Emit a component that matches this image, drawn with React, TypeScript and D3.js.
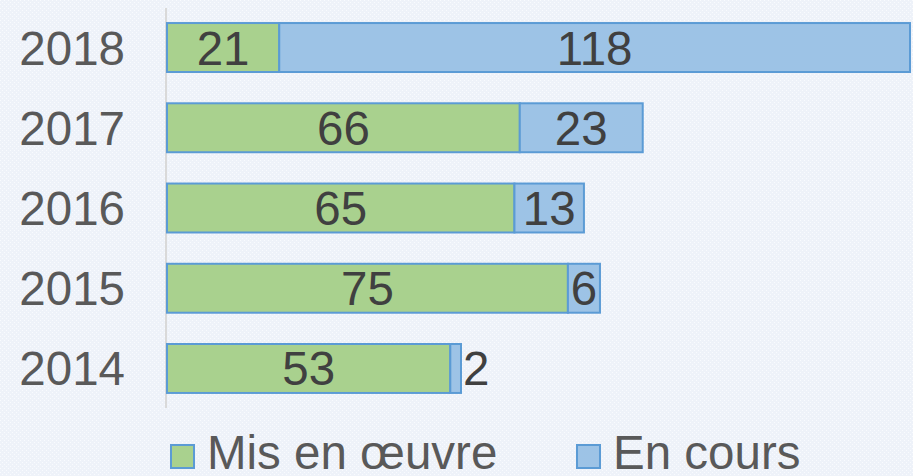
import React from "react";
import * as d3 from "d3";

const years = ["2018", "2017", "2016", "2015", "2014"];
const misEnOeuvre = [21, 66, 65, 75, 53];
const enCours = [118, 23, 13, 6, 2];
const seriesNames = ["Mis en œuvre", "En cours"];
const seriesColors = ["#a9d18e", "#9dc3e6"];

const W = 913;
const H = 476;
const FONT = "'Liberation Sans', Arial, sans-serif";
const FS = 47.5;

export default function App() {
  const x = d3.scaleLinear().domain([0, 139]).range([167, 910]);
  const y = d3.scaleBand().domain(years).range([7.4, 408.6]).paddingInner(0.39).paddingOuter(0.195);
  const bh = y.bandwidth();

  const rows = years.map((yr, i) => ({ yr, a: misEnOeuvre[i], b: enCours[i] }));

  return (
    <svg width={W} height={H} style={{ position: "absolute", left: 0, top: 0 }}>
      <defs>
        <pattern id="dots" width="4" height="4" patternUnits="userSpaceOnUse">
          <rect width="4" height="4" fill="#eef2f9" />
          <rect x="0" y="0" width="1" height="1" fill="#f9fbfe" />
          <rect x="2" y="2" width="1" height="1" fill="#f9fbfe" />
        </pattern>
      </defs>
      <rect width={W} height={H} fill="url(#dots)" />
      <line x1={166} x2={166} y1={8} y2={408} stroke="#d9d9d9" strokeWidth={2} />
      {rows.map((r) => {
        const y0 = y(r.yr)!;
        const cy = y0 + bh / 2;
        const xa0 = x(0);
        const xa1 = x(r.a);
        const xb1 = x(r.a + r.b);
        const bw = xb1 - xa1;
        const bLabelInside = bw > 25;
        return (
          <g key={r.yr}>
            <rect x={xa0} y={y0} width={xa1 - xa0} height={bh} fill={seriesColors[0]} stroke="#5b9bd5" strokeWidth={2} />
            <rect x={xa1} y={y0} width={bw} height={bh} fill={seriesColors[1]} stroke="#5b9bd5" strokeWidth={2} />
            <text x={(xa0 + xa1) / 2} y={cy + FS * 0.358} textAnchor="middle" fontFamily={FONT} fontSize={FS} fill="#404040">
              {r.a}
            </text>
            <text
              x={bLabelInside ? (xa1 + xb1) / 2 : xb1 + 2}
              y={cy + FS * 0.358}
              textAnchor={bLabelInside ? "middle" : "start"}
              fontFamily={FONT}
              fontSize={FS}
              fill="#404040"
            >
              {r.b}
            </text>
            <text x={125} y={cy + FS * 0.358} textAnchor="end" fontFamily={FONT} fontSize={FS} fill="#595959">
              {r.yr}
            </text>
          </g>
        );
      })}
      {seriesNames.map((n, i) => {
        const lx = i === 0 ? 171 : 577;
        return (
          <g key={n}>
            <rect x={lx} y={445} width={23} height={23} fill={seriesColors[i]} stroke="#5b9bd5" strokeWidth={2} />
            <text x={lx + 36} y={469} fontFamily={FONT} fontSize={FS} fill="#595959">
              {n}
            </text>
          </g>
        );
      })}
    </svg>
  );
}
